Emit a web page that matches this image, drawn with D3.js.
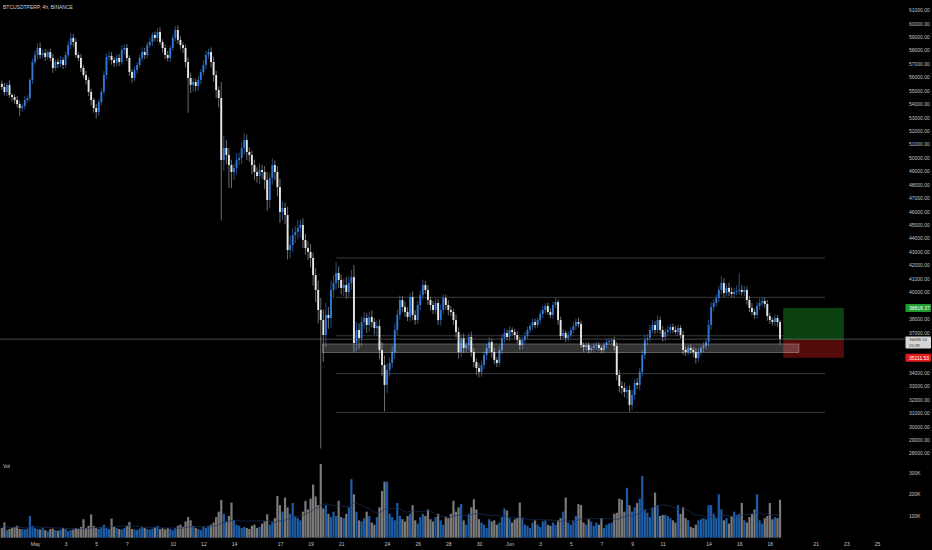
<!DOCTYPE html>
<html lang="en">
<head>
<meta charset="UTF-8">
<title>BTCUSDTPERP, 4h, BINANCE</title>
<script src="https://d3js.org/d3.v7.min.js"></script>
<style>
  html, body { margin: 0; padding: 0; background: #000; }
  svg { display: block; font-family: "Liberation Sans", Arial, sans-serif; }
</style>
</head>
<body>
<div id="chart"></div>
<script>
// ---- data (4h bars, first bar opens 2021-04-28 20:00 UTC) ----
const firstBar = Date.UTC(2021, 3, 28, 20);
const firstOpen = 55500;

const closes = [
  55270,54900,55420,54670,54520,54300,54000,53700,53850,54300,
  54450,55790,57130,57650,58170,57650,57800,57500,57870,57430,
  56680,57130,56980,57280,56910,57650,58390,58920,58620,57650,
  57430,56680,56160,55790,54900,54300,53700,53410,54150,54900,
  56160,57500,57580,57280,57050,57430,57130,58020,58170,57430,
  56380,55940,56530,56910,57430,57870,57650,58390,58620,59140,
  58920,59360,58620,58170,57650,57430,58170,58920,59510,58770,
  58390,58170,57130,55940,55420,55640,55340,55790,56380,56910,
  57650,57870,57130,56160,55040,54450,49830,50730,50210,49460,
  48940,49240,49830,49980,50730,51320,50430,50210,49460,48940,
  48640,49090,48940,48350,46860,48490,49460,48940,47820,45960,
  46260,45740,43130,43510,44250,44470,44770,45000,43880,43280,
  42990,42540,41270,40160,38670,37920,36810,38300,38070,40160,
  40680,41420,40900,40310,40530,40010,40680,41120,36210,37180,
  36580,37770,38070,37550,38150,37770,37330,37480,35690,34570,
  33090,34200,34720,35540,37180,38300,39410,38890,38520,38150,
  39640,38300,37920,39040,39780,40530,40160,39410,39040,38670,
  39190,37920,38670,39560,39040,38670,38520,37920,37030,35540,
  36580,35840,36060,36660,35540,34800,34350,34050,34570,35320,
  35840,36290,35540,34950,34720,35690,36580,36960,36660,37180,
  37030,36810,36430,36060,36430,36730,37180,37480,37770,37550,
  37920,38370,38670,38970,38520,38300,39040,39260,37920,36730,
  36960,36580,36810,37180,37480,37770,37630,36060,35910,36060,
  35690,35840,35990,36060,35840,35690,36060,36290,36360,36430,
  35990,33830,33010,32860,32570,32710,31600,32340,33240,33090,
  34050,35320,36430,36580,37180,37550,37180,37920,37180,36660,
  37030,37180,37400,37180,37030,37330,36810,35690,35540,35840,
  35690,35540,35090,35540,35840,35990,36290,37550,38890,39190,
  39560,40160,40680,39930,40310,40010,39860,40010,40080,40160,
  40010,40160,39410,38820,38520,38300,38970,39190,39340,39110,
  38220,37920,37770,38070,37770,36499.14
];

// wick length above the body / below the body, in USD
const wickUp = [
  250,300,200,350,150,200,300,250,200,300,
  200,150,250,300,350,400,250,300,200,250,
  300,200,250,300,200,250,300,350,300,250,
  200,300,250,300,200,250,150,300,200,250,
  300,250,350,300,200,250,300,350,250,300,
  200,250,300,200,250,350,300,250,300,200,
  250,300,350,200,250,300,200,250,300,350,
  300,200,250,350,400,300,250,300,200,350,
  300,250,350,400,300,250,1200,900,600,500,
  400,350,500,400,450,500,400,350,300,400,
  350,500,400,450,600,400,500,350,450,600,
  500,400,600,700,500,450,600,400,500,450,
  500,600,400,500,700,900,800,900,600,700,
  600,820,500,400,450,600,500,530,900,600,
  500,400,450,350,400,500,300,400,500,600,
  700,500,400,450,500,400,350,300,400,350,
  300,400,350,300,350,400,300,350,250,300,
  350,300,400,300,250,350,300,250,400,350,
  300,350,250,300,400,300,250,350,300,250,
  300,350,250,300,200,250,300,350,250,300,
  200,250,300,250,200,300,250,200,300,250,
  200,250,300,200,250,300,250,300,200,250,
  300,200,250,200,300,250,300,250,200,250,
  200,150,200,250,200,150,200,250,200,150,
  250,300,400,350,400,300,350,400,300,350,
  300,350,400,300,350,400,300,350,250,300,
  250,300,200,250,300,250,200,300,250,200,
  250,200,300,250,200,300,250,400,350,300,
  250,300,500,350,300,400,350,300,400,1260,
  350,300,250,300,350,250,300,350,300,250,
  300,250,200,250,200,150
];
const wickDn = [
  200,250,300,200,350,300,250,600,300,250,
  200,250,300,200,350,300,250,300,200,250,
  350,200,300,250,300,200,250,300,350,200,
  250,300,200,350,300,400,350,500,300,250,
  200,300,250,350,300,250,300,200,350,250,
  300,350,250,300,200,250,300,250,200,300,
  250,300,200,350,300,250,300,200,250,300,
  300,350,400,2600,600,500,400,350,300,250,
  300,250,400,500,600,700,4500,800,700,1700,
  1200,600,500,400,450,500,600,500,700,600,
  500,600,500,700,800,600,500,600,700,800,
  600,700,700,600,500,600,500,700,600,500,
  600,700,800,900,1000,9560,2000,900,800,700,
  600,500,600,500,600,500,400,500,700,600,
  800,600,500,600,500,400,500,600,700,800,
  1970,600,500,400,500,400,350,400,350,300,
  350,400,350,300,400,350,300,350,400,300,
  300,350,400,300,350,400,300,350,400,500,
  400,350,300,400,350,400,500,400,350,300,
  350,300,400,350,300,250,300,350,250,300,
  250,300,250,350,300,250,200,250,300,250,
  200,250,300,250,200,250,300,250,350,300,
  250,300,250,200,250,300,250,200,350,300,
  250,200,250,300,200,250,200,250,200,300,
  350,400,500,450,400,500,500,400,350,300,
  400,350,300,350,300,250,300,250,300,350,
  300,250,300,250,200,300,250,350,300,250,
  300,350,400,300,250,300,250,300,350,300,
  250,300,350,300,250,300,250,300,250,300,
  250,300,350,300,250,300,250,300,250,300,
  350,300,250,300,350,400
];

// volume, thousands
const volumesK = [
  45,70,35,40,45,50,55,40,40,38,
  42,100,55,45,40,38,45,35,30,40,
  42,35,32,38,45,40,30,35,38,45,
  40,50,85,45,55,107,55,45,40,50,
  60,45,40,88,50,45,40,38,45,55,
  72,40,38,35,42,50,45,40,38,42,
  48,55,40,45,38,45,40,35,45,55,
  60,50,75,95,80,55,45,40,35,50,
  45,55,60,70,95,120,174,110,75,100,
  162,80,60,55,45,50,45,40,55,60,
  45,50,65,75,108,60,75,90,192,150,
  120,185,140,110,160,100,90,80,120,170,
  130,180,245,190,150,340,135,150,110,95,
  120,100,170,95,90,110,140,270,200,120,
  80,75,90,120,100,70,60,95,140,215,
  258,258,110,95,80,160,100,85,75,100,
  110,150,80,65,95,110,100,130,85,75,
  95,110,80,60,95,90,110,170,120,140,
  155,80,60,110,140,177,130,85,70,60,
  45,85,75,80,60,70,95,135,125,90,
  70,85,90,162,90,60,55,45,70,80,
  60,50,75,80,60,55,70,60,80,90,
  120,185,70,60,80,100,155,150,70,60,
  85,75,55,70,60,90,45,60,65,70,
  110,115,180,175,120,230,150,120,140,160,
  180,285,130,115,95,140,208,150,100,105,
  105,100,90,80,70,150,110,140,90,80,
  50,45,60,80,85,90,85,150,150,110,
  90,200,130,80,90,65,100,120,105,110,
  160,80,70,95,110,130,200,80,65,90,
  100,160,85,95,90,175
];

const dateTicks = [
  "2021-05-01","2021-05-03","2021-05-05","2021-05-07","2021-05-10","2021-05-12",
  "2021-05-14","2021-05-17","2021-05-19","2021-05-21","2021-05-24","2021-05-26",
  "2021-05-28","2021-05-30","2021-06-01","2021-06-03","2021-06-05","2021-06-07",
  "2021-06-09","2021-06-11","2021-06-14","2021-06-16","2021-06-18","2021-06-21",
  "2021-06-23","2021-06-25"
];
const priceTicks = d3.range(28000, 61001, 1000);
const volTicks = [100, 200, 300];

// drawn levels and zones
const levels = [42540, 39610, 36750, 33930, 31050];
const levelSpan = ["2021-05-20T15:50Z", "2021-06-21T14:30Z"];
const zone = [35490, 36140];
const zoneSpan = ["2021-05-19T19:00Z", "2021-06-19T21:40Z"];
const target = 38818.37, entry = 36434, stop = 35111.53;
const posSpan = ["2021-06-18T21:00Z", "2021-06-22T20:00Z"];
const lastPrice = 36499.14, countdown = "20:39";

// ---- build ----
const W = 932, H = 550;
const svg = d3.select("#chart").append("svg").attr("width", W).attr("height", H);
svg.append("rect").attr("width", W).attr("height", H).attr("fill", "#000");

const x = d3.scaleUtc()
  .domain([new Date(Date.UTC(2021, 4, 1)), new Date(Date.UTC(2021, 5, 25))])
  .range([35, 877]);
const y = d3.scaleLinear().domain([28000, 61000]).range([453.3, 10]);
const yv = d3.scaleLinear().domain([0, 300]).range([537.7, 472.6]);

const bars = closes.map((c, i) => {
  const o = i ? closes[i - 1] : firstOpen;
  return {
    t: new Date(firstBar + i * 4 * 3600e3), o, c,
    h: Math.max(o, c) + wickUp[i], l: Math.min(o, c) - wickDn[i],
    v: volumesK[i], up: c >= o
  };
});

const bw = 1.9;
const upCol = "#2f78d6", dnCol = "#e6e6e6";

// volume
svg.append("g").selectAll("rect").data(bars).join("rect")
  .attr("x", d => x(d.t) - 1.1).attr("width", 2.2)
  .attr("y", d => yv(d.v)).attr("height", d => yv(0) - yv(d.v))
  .attr("fill", d => d.up ? "#1d5ca6" : "#7a7a7a");

const ma = bars.map((d, i) => ({ t: d.t, v: d3.mean(volumesK.slice(Math.max(0, i - 19), i + 1)) }));
svg.append("path").datum(ma)
  .attr("fill", "none").attr("stroke", "#1c2f5e").attr("stroke-width", 0.7)
  .attr("d", d3.line().x(d => x(d.t)).y(d => yv(d.v)));

// horizontal levels
svg.append("g").selectAll("line").data(levels).join("line")
  .attr("x1", x(new Date(levelSpan[0]))).attr("x2", x(new Date(levelSpan[1])))
  .attr("y1", d => y(d)).attr("y2", d => y(d))
  .attr("stroke", "#4a4a4a").attr("stroke-width", 0.8);

// position tool
const px0 = x(new Date(posSpan[0])), px1 = x(new Date(posSpan[1]));
svg.append("rect").attr("x", px0).attr("width", px1 - px0)
  .attr("y", y(target)).attr("height", y(entry) - y(target)).attr("fill", "#0b4210");
svg.append("rect").attr("x", px0).attr("width", px1 - px0)
  .attr("y", y(entry)).attr("height", y(stop) - y(entry)).attr("fill", "#560b0b");

// candles
const cg = svg.append("g");
cg.selectAll("line").data(bars).join("line")
  .attr("x1", d => x(d.t)).attr("x2", d => x(d.t))
  .attr("y1", d => y(d.h)).attr("y2", d => y(d.l))
  .attr("stroke", d => d.up ? "#3a6fb8" : "#9c9c9c").attr("stroke-width", 0.7);
cg.selectAll("rect").data(bars).join("rect")
  .attr("x", d => x(d.t) - bw / 2).attr("width", bw)
  .attr("y", d => y(Math.max(d.o, d.c)))
  .attr("height", d => Math.max(0.8, Math.abs(y(d.o) - y(d.c))))
  .attr("fill", d => d.up ? upCol : dnCol);

// zone box
const zx0 = x(new Date(zoneSpan[0])), zx1 = x(new Date(zoneSpan[1]));
svg.append("rect").attr("x", zx0).attr("width", zx1 - zx0)
  .attr("y", y(zone[1])).attr("height", y(zone[0]) - y(zone[1]))
  .attr("fill", "rgba(255,255,255,0.2)").attr("stroke", "rgba(255,255,255,0.45)").attr("stroke-width", 0.6);

// last price line
svg.append("line").attr("x1", 0).attr("x2", 905)
  .attr("y1", y(lastPrice)).attr("y2", y(lastPrice))
  .attr("stroke", "#777").attr("stroke-width", 0.6);

// price tags: [price, lines, fill, text colour]
const tags = [
  { p: target, lines: [d3.format(".2f")(target)], fill: "#1f9b2d", color: "#fff" },
  { p: stop, lines: [d3.format(".2f")(stop)], fill: "#e01a1d", color: "#fff" },
  { p: lastPrice, lines: [d3.format(".2f")(lastPrice), countdown], fill: "#d6d6d6", color: "#333" }
];
tags.forEach(t => {
  const two = t.lines.length > 1;
  t.top = two ? y(t.p) - 2.6 : y(t.p) - 4;
  t.h = two ? 12 : 8;
});

// axes (labels hidden behind the price tags are left out, as on the screen)
const shownTicks = priceTicks.filter(p =>
  tags.every(t => Math.abs(y(p) - (t.top + t.h / 2)) > t.h / 2 + 2.5));
const pAxis = svg.append("g").attr("transform", "translate(909,0)")
  .call(d3.axisRight(y).tickValues(shownTicks).tickFormat(d3.format(".2f")).tickSize(0).tickPadding(0));
pAxis.select(".domain").remove();
pAxis.selectAll("text").attr("font-size", 5).attr("fill", "#c4c4c4").attr("font-family", "Liberation Sans, Arial, sans-serif");

const vAxis = svg.append("g").attr("transform", "translate(909,0)")
  .call(d3.axisRight(yv).tickValues(volTicks).tickFormat(d => d + "K").tickSize(0).tickPadding(0));
vAxis.select(".domain").remove();
vAxis.selectAll("text").attr("font-size", 5).attr("fill", "#c4c4c4").attr("font-family", "Liberation Sans, Arial, sans-serif");

const xAxis = svg.append("g").attr("transform", "translate(0,542.3)")
  .call(d3.axisBottom(x).tickValues(dateTicks.map(s => new Date(s + "T00:00Z")))
    .tickFormat(d => d.getUTCDate() === 1 ? d3.utcFormat("%b")(d) : d.getUTCDate())
    .tickSize(0).tickPadding(0));
xAxis.select(".domain").remove();
xAxis.selectAll("text").attr("font-size", 5).attr("fill", "#c4c4c4").attr("font-family", "Liberation Sans, Arial, sans-serif");

tags.forEach(t => {
  const two = t.lines.length > 1;
  svg.append("rect").attr("x", 905.5).attr("y", t.top).attr("width", 25.5).attr("height", t.h)
    .attr("fill", t.fill).attr("rx", 0.8);
  t.lines.forEach((s, k) => {
    svg.append("text").attr("x", 909).attr("y", t.top + (two ? 4.6 : 5.9) + k * 5.9)
      .attr("font-size", two ? 4.3 : 5).attr("fill", t.color).text(s);
  });
});

// labels
svg.append("text").attr("x", 3).attr("y", 8.6).attr("font-size", 5).attr("fill", "#d0d0d0")
  .text("BTCUSDTPERP, 4h, BINANCE");
svg.append("text").attr("x", 3).attr("y", 467.5).attr("font-size", 5).attr("fill", "#c4c4c4")
  .text("Vol");
</script>
</body>
</html>
